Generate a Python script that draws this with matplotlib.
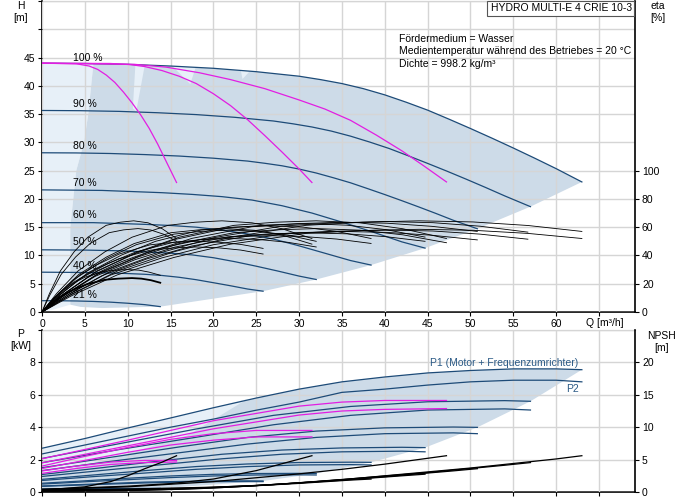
import numpy as np
import matplotlib
matplotlib.use('Agg')
import matplotlib.pyplot as plt
from matplotlib.patches import Rectangle

plt.rcParams['font.family'] = ['Liberation Sans', 'DejaVu Sans']

# ---------------- data ----------------
speed_labels = ['100 %', '90 %', '80 %', '70 %', '60 %', '50 %', '40 %', '21 %']
speed_label_h = [45.0, 36.7, 29.3, 22.9, 17.1, 12.3, 8.1, 3.0]

# H-Q curves per speed
h_q_100 = [0, 5, 10, 15, 20, 25, 30, 32.5, 35, 37.5, 40, 42.5, 45, 47.5, 50, 52.5, 55, 57.5, 60, 63]
h_h_100 = [44.0, 43.95, 43.8, 43.5, 43.1, 42.5, 41.7, 41.1, 40.4, 39.5, 38.4, 37.1, 35.7, 34.1,
           32.45, 30.75, 29.0, 27.2, 25.35, 23.0]
h_q_90 = [0, 4.5, 9, 13.5, 18, 22.5, 27, 29.25, 31.5, 33.75, 36, 38.25, 40.5, 42.75, 45, 47.25,
          49.5, 51.75, 54, 57.0]
h_h_90 = [35.64, 35.6, 35.48, 35.24, 34.91, 34.43, 33.78, 33.29, 32.72, 32.0, 31.1, 30.05, 28.92,
          27.62, 26.28, 24.91, 23.49, 22.03, 20.53, 18.63]
h_q_80 = [0, 4, 8, 12, 16, 20, 24, 26, 28, 30, 32, 34, 36, 38, 40, 42, 44, 46, 48, 50.8]
h_h_80 = [28.16, 28.13, 28.03, 27.84, 27.58, 27.2, 26.69, 26.3, 25.86, 25.28, 24.58, 23.74, 22.85,
          21.82, 20.77, 19.68, 18.56, 17.41, 16.22, 14.72]
h_q_70 = [0, 7, 14, 17.5, 21, 24.5, 28, 31.5, 35, 38.5, 42, 44.7]
h_h_70 = [21.6, 21.5, 21.1, 20.8, 20.4, 19.8, 18.8, 17.5, 15.9, 14.2, 12.4, 11.3]
h_q_60 = [0, 6, 12, 15, 18, 21, 24, 27, 30, 33, 36, 38.4]
h_h_60 = [15.8, 15.8, 15.5, 15.3, 15.0, 14.5, 13.8, 12.9, 11.7, 10.4, 9.1, 8.3]
h_q_50 = [0, 5, 10, 12.5, 15, 17.5, 20, 22.5, 25, 27.5, 30, 32.0]
h_h_50 = [11.0, 10.95, 10.8, 10.6, 10.4, 10.1, 9.6, 8.9, 8.1, 7.25, 6.35, 5.75]
h_q_40 = [0, 4, 8, 10, 12, 14, 16, 18, 20, 22, 24, 25.8]
h_h_40 = [7.04, 7.0, 6.9, 6.8, 6.67, 6.46, 6.14, 5.71, 5.18, 4.64, 4.06, 3.68]
h_q_21 = [0, 2, 4, 6, 8, 10, 12, 13.8]
h_h_21 = [2.0, 1.99, 1.95, 1.87, 1.74, 1.55, 1.3, 0.95]

# magenta H-Q curves
mh_q_1 = [0, 4, 5.5, 6.5, 7.5, 8.5, 9.5, 10.5, 11.5, 12.5, 13.5, 14.5, 15.7]
mh_h_1 = [44.0, 43.9, 43.5, 42.9, 41.9, 40.6, 38.9, 37.0, 34.9, 32.5, 29.7, 26.6, 22.9]
mh_q_2 = [0, 8, 10.3, 12, 14, 16, 18, 20, 22, 24, 26, 28, 30, 31.5]
mh_h_2 = [44.0, 43.95, 43.75, 43.4, 42.7, 41.7, 40.4, 38.6, 36.5, 34.0, 31.2, 28.3, 25.3, 22.9]
mh_q_3 = [0, 10.8, 14.5, 18.4, 22, 26, 30, 33, 36, 39, 42, 44.5, 47.2]
mh_h_3 = [44.0, 43.8, 43.3, 42.3, 41.1, 39.5, 37.5, 35.9, 33.9, 31.3, 28.5, 25.9, 23.0]

# operating range outline (left side / bottom), H
env_left_q = [7.0, 4.5, 3.3, 3.3, 4.0, 4.9, 5.4, 6.0]
env_left_h = [0.7, 0.9, 1.3, 15.0, 25.0, 30.0, 35.0, 43.9]
light_wedges = [
    ([10.9, 12.0, 11.0, 10.6], [43.8, 43.7, 35.5, 36.0]),
    ([15.2, 17.9, 17.3], [43.5, 43.1, 40.3]),
    ([23.2, 24.2, 23.4], [42.7, 42.5, 41.2]),
]

# efficiency curves (eta, %)
e_q_m1 = [0, 0.86, 2.14, 3.75, 5.35, 7.49, 9.1, 10.7, 12.37, 14.03, 15.7]
e_v_m1 = [0, 12.9, 29.0, 42.6, 52.9, 61.3, 63.5, 64.5, 63.1, 58.9, 52]
e_q_m1b = [0, 0.9, 2.24, 3.92, 5.6, 7.84, 9.52, 11.2, 12.7, 14.2, 15.7]
e_v_m1b = [0, 11.8, 26.6, 38.9, 48.4, 56.1, 58.1, 59, 58.0, 55.0, 50]
e_q_m2 = [0, 1.68, 4.2, 7.35, 10.5, 14.7, 17.85, 21, 24.5, 28.0, 31.5]
e_v_m2 = [0, 12.9, 29.0, 42.6, 52.9, 61.3, 63.5, 64.5, 63.1, 58.9, 52]
e_q_m2b = [0, 1.72, 4.3, 7.53, 10.75, 15.05, 18.3, 21.5, 24.8, 28.2, 31.5]
e_v_m2b = [0, 11.8, 26.6, 38.9, 48.4, 56.1, 58.1, 59, 57.8, 54.1, 48]
e_q_m3 = [0, 2.56, 6.4, 11.2, 16, 22.4, 27.2, 32, 37.1, 42.1, 47.2]
e_v_m3 = [0, 12.9, 29.0, 42.6, 52.9, 61.3, 63.5, 64.5, 63.1, 58.9, 52]
e_q_m3b = [0, 2.56, 6.4, 11.2, 16, 22.4, 27.2, 32, 37.1, 42.1, 47.2]
e_v_m3b = [0, 11.8, 26.6, 38.9, 48.4, 56.1, 58.1, 59, 57.9, 54.6, 49]
e_q_100a = [0, 3.52, 8.8, 15.4, 22, 30.8, 37.4, 44, 50.3, 56.7, 63]
e_v_100a = [0, 12.9, 29.0, 42.6, 52.9, 61.3, 63.5, 64.5, 63.7, 61.2, 57]
e_q_100b = [0, 3.52, 8.8, 15.4, 22, 30.8, 37.4, 44, 50.3, 56.7, 63]
e_v_100b = [0, 11.7, 26.3, 38.6, 48.0, 55.6, 57.6, 58.5, 57.8, 55.6, 52]
e_q_90a = [0, 3.2, 8, 14, 20, 28, 34, 40, 45.6, 51.1, 56.7]
e_v_90a = [0, 12.8, 28.8, 42.2, 52.5, 60.8, 63.0, 64, 63.2, 60.7, 56.5]
e_q_90b = [0, 3.2, 8, 14, 20, 28, 34, 40, 45.6, 51.1, 56.7]
e_v_90b = [0, 11.6, 26.1, 38.3, 47.6, 55.1, 57.1, 58, 57.3, 55.1, 51.5]
e_q_80a = [0, 2.8, 7, 12.25, 17.5, 24.5, 29.75, 35, 40.3, 45.5, 50.8]
e_v_80a = [0, 12.7, 28.6, 41.9, 52.1, 60.3, 62.5, 63.5, 62.8, 60.6, 57]
e_q_80b = [0, 2.8, 7, 12.25, 17.5, 24.5, 29.75, 35, 40.3, 45.5, 50.8]
e_v_80b = [0, 11.4, 25.7, 37.6, 46.7, 54.2, 56.1, 57, 56.3, 54.3, 51]
e_q_70a = [0, 2.48, 6.2, 10.85, 15.5, 21.7, 26.35, 31, 35.6, 40.1, 44.7]
e_v_70a = [0, 12.5, 28.1, 41.3, 51.3, 59.4, 61.6, 62.5, 61.4, 58.3, 53]
e_q_70b = [0, 2.48, 6.2, 10.85, 15.5, 21.7, 26.35, 31, 35.6, 40.1, 44.7]
e_v_70b = [0, 11.2, 25.2, 37.0, 45.9, 53.2, 55.2, 56, 55.3, 53.3, 50]
e_q_60a = [0, 2.12, 5.3, 9.28, 13.25, 18.55, 22.5, 26.5, 30.5, 34.4, 38.4]
e_v_60a = [0, 12.2, 27.5, 40.3, 50.0, 58.0, 60.1, 61, 60.0, 57.0, 52]
e_q_60b = [0, 2.12, 5.3, 9.28, 13.25, 18.55, 22.5, 26.5, 30.5, 34.4, 38.4]
e_v_60b = [0, 10.8, 24.3, 35.6, 44.3, 51.3, 53.2, 54, 53.4, 51.6, 48.5]
e_q_50a = [0, 1.76, 4.4, 7.7, 11, 15.4, 18.7, 22, 25.3, 28.7, 32]
e_v_50a = [0, 11.6, 26.1, 38.3, 47.6, 55.1, 57.1, 58, 57.1, 54.4, 50]
e_q_50b = [0, 1.76, 4.4, 7.7, 11, 15.4, 18.7, 22, 25.3, 28.7, 32]
e_v_50b = [0, 10.4, 23.4, 34.3, 42.6, 49.4, 51.2, 52, 51.3, 49.3, 46]
e_q_40a = [0, 1.44, 3.6, 6.3, 9, 12.6, 15.3, 18, 20.6, 23.2, 25.8]
e_v_40a = [0, 10, 22.5, 33, 41, 47.5, 49.25, 50, 49.4, 47.8, 45]
e_q_40b = [0, 1.44, 3.6, 6.3, 9, 12.6, 15.3, 18, 20.6, 23.2, 25.8]
e_v_40b = [0, 9.2, 20.7, 30.4, 37.7, 43.7, 45.3, 46, 45.4, 43.8, 41]
e_q_21a = [0, 0.8, 2, 3.5, 5, 7, 8.5, 10, 11.3, 12.5, 13.8]
e_v_21a = [0, 6, 13.5, 19.8, 24.6, 28.5, 29.55, 30, 29.6, 28.2, 26]
e_q_21b = [0, 0.84, 2.1, 3.68, 5.25, 7.35, 8.9, 10.5, 11.6, 12.7, 13.8]
e_v_21b = [0, 4.8, 10.8, 15.8, 19.7, 22.8, 23.6, 24, 23.6, 22.5, 20.7]

# power curves P1 / P2 (kW)
p_q_100 = [0, 5, 10, 15, 20, 25, 30, 35, 40, 45, 50, 55, 60, 63]
p1_100 = [2.7, 3.3, 3.95, 4.57, 5.2, 5.8, 6.35, 6.8, 7.1, 7.35, 7.5, 7.6, 7.6, 7.55]
p2_100 = [2.35, 2.9, 3.45, 4.0, 4.5, 5.05, 5.55, 6.15, 6.35, 6.6, 6.8, 6.9, 6.9, 6.8]
p_q_90 = [0, 9, 18, 27, 36, 45, 54, 57.0]
p1_90 = [2.07, 2.98, 3.89, 4.73, 5.28, 5.57, 5.64, 5.6]
p2_90 = [1.81, 2.62, 3.38, 4.15, 4.73, 5.06, 5.13, 5.06]
p_q_80 = [0, 8, 16, 24, 32, 40, 48, 50.8]
p1_80 = [1.5, 2.14, 2.78, 3.37, 3.76, 3.96, 4.01, 3.99]
p2_80 = [1.32, 1.89, 2.42, 2.96, 3.37, 3.6, 3.65, 3.6]
p_q_70 = [0, 7, 14, 21, 28, 35, 42, 44.7]
p1_70 = [1.08, 1.5, 1.93, 2.33, 2.59, 2.72, 2.76, 2.74]
p2_70 = [0.96, 1.33, 1.69, 2.05, 2.33, 2.48, 2.52, 2.48]
p_q_60 = [0, 6, 12, 18, 24, 30, 36, 38.4]
p1_60 = [0.78, 1.05, 1.32, 1.57, 1.73, 1.82, 1.84, 1.83]
p2_60 = [0.71, 0.95, 1.17, 1.4, 1.57, 1.67, 1.69, 1.67]
p_q_50 = [0, 5, 10, 15, 20, 25, 30, 32.0]
p1_50 = [0.54, 0.69, 0.85, 0.99, 1.09, 1.14, 1.15, 1.14]
p2_50 = [0.49, 0.63, 0.76, 0.89, 0.99, 1.05, 1.06, 1.05]
p_q_40 = [0, 4, 8, 12, 16, 20, 24, 25.8]
p1_40 = [0.37, 0.45, 0.53, 0.61, 0.65, 0.68, 0.69, 0.68]
p2_40 = [0.35, 0.42, 0.49, 0.56, 0.61, 0.64, 0.64, 0.64]
p_q_21 = [0, 2.1, 4.2, 6.3, 8.4, 10.5, 12.6, 13.8]
p1_21 = [0.18, 0.19, 0.2, 0.21, 0.22, 0.22, 0.22, 0.22]
p2_21 = [0.17, 0.18, 0.19, 0.2, 0.21, 0.21, 0.21, 0.21]

# magenta power curves
mp_q_1 = [0, 4, 8, 12, 15.7]
mp1_1 = [1.3, 1.6, 1.85, 1.95, 1.95]
mp2_1 = [1.15, 1.45, 1.7, 1.82, 1.85]
mp_q_2 = [0, 5, 10, 15, 20, 25, 31.5]
mp1_2 = [1.6, 2.2, 2.75, 3.25, 3.6, 3.8, 3.8]
mp2_2 = [1.45, 1.95, 2.45, 2.9, 3.2, 3.4, 3.4]
mp_q_3 = [0, 10, 20, 30, 35, 40, 47.2]
mp1_3 = [2.05, 3.2, 4.4, 5.3, 5.55, 5.65, 5.65]
mp2_3 = [1.8, 2.85, 3.9, 4.75, 5.0, 5.1, 5.15]

# light part of power range
p_light_q = [24.0, 17.0, 9.0, 0.0]
p_light_p = [5.75, 3.5, 2.2, 1.0]

# NPSH curves (m)
n_q_100 = [0, 10, 20, 25, 30, 35, 40, 45, 50, 55, 60, 63]
n_v_100 = [0.3, 0.45, 0.75, 1.0, 1.4, 1.9, 2.5, 3.1, 3.7, 4.4, 5.1, 5.6]
n_q_90 = [0, 9, 18, 27, 36, 45, 54, 57.0]
n_v_90 = [0.25, 0.36, 0.61, 1.13, 2.03, 3.0, 4.13, 4.54]
n_q_80 = [0, 8, 16, 24, 32, 40, 48, 50.8]
n_v_80 = [0.2, 0.29, 0.48, 0.9, 1.6, 2.37, 3.26, 3.6]
n_q_70 = [0, 7, 14, 21, 28, 35, 42, 44.7]
n_v_70 = [0.15, 0.22, 0.37, 0.69, 1.23, 1.82, 2.5, 2.75]
n_q_60 = [0, 6, 12, 18, 24, 30, 36, 38.4]
n_v_60 = [0.11, 0.16, 0.27, 0.5, 0.9, 1.33, 1.84, 2.0]
n_q_m1 = [0, 5, 8, 10, 12, 14, 15.7]
n_v_m1 = [0.3, 0.8, 1.6, 2.5, 3.6, 4.6, 5.6]
n_q_m2 = [0, 10, 15, 20, 25, 31.5]
n_v_m2 = [0.4, 0.9, 1.3, 2.0, 3.3, 5.6]
n_q_m3 = [0, 10, 20, 30, 35, 40, 47.2]
n_v_m3 = [0.4, 0.8, 1.6, 2.8, 3.5, 4.3, 5.6]

# ---------------- style ----------------
BLUE = '#1d4b78'
MAG = '#e21ee2'
SHADE = '#cddbe8'
LIGHT = '#e7f0f8'
GRID = '#d5d5d5'
FS = 7.5

W, H = 691, 500
fig = plt.figure(figsize=(W / 100, H / 100), dpi=100)
ax_h = fig.add_axes([42 / W, 188 / H, 593 / W, 311 / H])
ax_p = fig.add_axes([42 / W, 8 / H, 593 / W, 162 / H])

def ptext(x, y, s, **kw):
    kw.setdefault('fontsize', FS)
    fig.text(x / W, 1 - y / H, s, **kw)

XMAX = 69.2
for ax in (ax_h, ax_p):
    ax.set_xlim(0, XMAX)
    ax.set_xticks(np.arange(0, 66, 5))
    ax.grid(True, color=GRID, lw=1.0, zorder=1.5)
    ax.set_axisbelow(False)
    for s in ('left', 'bottom'):
        ax.spines[s].set_color('black')
        ax.spines[s].set_linewidth(1.2)
    ax.spines['top'].set_color('#9a9a9a')
    ax.spines['top'].set_linewidth(0.8)
    ax.spines['right'].set_visible(False)
    ax.tick_params(direction='out', length=3, width=0.8, labelsize=FS, pad=2)

ax_h.set_xticklabels([str(v) for v in range(0, 61, 5)] + [''])
ax_h.set_ylim(0, 55)
ax_h.set_yticks(np.arange(0, 56, 5))
ax_h.set_yticklabels([str(v) if v <= 45 else '' for v in range(0, 56, 5)])
ax_p.set_xticklabels([])
ax_p.tick_params(labelbottom=False)
ax_p.set_ylim(0, 10)
ax_p.set_yticks(np.arange(0, 11, 2))
ax_p.set_yticklabels([str(v) if v <= 8 else '' for v in range(0, 11, 2)])

ax_e = ax_h.twinx()
ax_e.set_ylim(0, 220)
ax_e.set_yticks(np.arange(0, 101, 20))
ax_n = ax_p.twinx()
ax_n.set_ylim(0, 25)
ax_n.set_yticks(np.arange(0, 21, 5))
for ax in (ax_e, ax_n):
    for s in ('left', 'top', 'bottom'):
        ax.spines[s].set_visible(False)
    ax.spines['right'].set_color('black')
    ax.spines['right'].set_linewidth(1.2)
    ax.tick_params(direction='out', length=3, width=0.8, labelsize=FS, pad=2)

# ---------------- top chart: H ----------------
speed_q = [h_q_100, h_q_90, h_q_80, h_q_70, h_q_60, h_q_50, h_q_40, h_q_21]
speed_h = [h_h_100, h_h_90, h_h_80, h_h_70, h_h_60, h_h_50, h_h_40, h_h_21]

# light background part
lq = [0, 0] + [q for q in h_q_100 if 0 < q < 6.0] + [6.0, 5.4, 4.9, 4.0, 3.3, 3.3, 1.5]
lh = [0, 44.0] + [h for q, h in zip(h_q_100, h_h_100) if 0 < q < 6.0] + [43.9, 35.0, 30.0, 25.0, 15.0, 1.3, 0.5]
ax_h.fill(lq, lh, color=LIGHT, lw=0, zorder=1)

# main operating range
dq = [q for q in h_q_100 if q > 6.0] + [qq[-1] for qq in speed_q[1:]] + env_left_q
dh = [h for q, h in zip(h_q_100, h_h_100) if q > 6.0] + [hh[-1] for hh in speed_h[1:]] + env_left_h
ax_h.fill(dq, dh, color=SHADE, lw=0, zorder=1)
for wq, wh in light_wedges:
    ax_h.fill(wq, wh, color=LIGHT, lw=0, zorder=1.2)

for qq, hh in zip(speed_q, speed_h):
    ax_h.plot(qq, hh, color=BLUE, lw=0.9, zorder=3)
for qq, hh in ((mh_q_1, mh_h_1), (mh_q_2, mh_h_2), (mh_q_3, mh_h_3)):
    ax_h.plot(qq, hh, color=MAG, lw=0.9, zorder=3.5)
for lab, yh in zip(speed_labels, speed_label_h):
    ax_h.text(3.6, yh, lab, fontsize=FS, va='center', ha='left', zorder=6)

# efficiency curves
eta_curves = [
    (e_q_m1, e_v_m1), (e_q_m1b, e_v_m1b), (e_q_m2, e_v_m2), (e_q_m2b, e_v_m2b),
    (e_q_m3, e_v_m3), (e_q_m3b, e_v_m3b), (e_q_100a, e_v_100a), (e_q_100b, e_v_100b),
    (e_q_90a, e_v_90a), (e_q_90b, e_v_90b), (e_q_80a, e_v_80a), (e_q_80b, e_v_80b),
    (e_q_70a, e_v_70a), (e_q_70b, e_v_70b), (e_q_60a, e_v_60a), (e_q_60b, e_v_60b),
    (e_q_50a, e_v_50a), (e_q_50b, e_v_50b), (e_q_40a, e_v_40a), (e_q_40b, e_v_40b),
    (e_q_21a, e_v_21a),
]
for qq, ee in eta_curves:
    ax_e.plot(qq, ee, color='black', lw=0.6, zorder=4)
ax_e.plot(e_q_21b, e_v_21b, color='black', lw=1.3, zorder=4)

# ---------------- bottom chart: P and NPSH ----------------
pq_list = [p_q_100, p_q_90, p_q_80, p_q_70, p_q_60, p_q_50, p_q_40, p_q_21]
p1_list = [p1_100, p1_90, p1_80, p1_70, p1_60, p1_50, p1_40, p1_21]
p2_list = [p2_100, p2_90, p2_80, p2_70, p2_60, p2_50, p2_40, p2_21]

bq = list(p_q_100) + [qq[-1] for qq in pq_list[1:]] + [0]
bp = list(p1_100) + [pp[-1] for pp in p1_list[1:]] + [0.17]
ax_p.fill(bq, bp, color=SHADE, lw=0, zorder=1)
lpq = [q for q in p_q_100 if q <= 24] + p_light_q
lpp = [p for q, p in zip(p_q_100, p1_100) if q <= 24] + p_light_p
ax_p.fill(lpq, lpp, color=LIGHT, lw=0, zorder=1.1)

for qq, a, b in zip(pq_list, p1_list, p2_list):
    ax_p.plot(qq, a, color=BLUE, lw=0.9, zorder=3)
    ax_p.plot(qq, b, color=BLUE, lw=0.9, zorder=3)
for qq, a, b in ((mp_q_1, mp1_1, mp2_1), (mp_q_2, mp1_2, mp2_2), (mp_q_3, mp1_3, mp2_3)):
    ax_p.plot(qq, a, color=MAG, lw=0.9, zorder=3.5)
    ax_p.plot(qq, b, color=MAG, lw=0.9, zorder=3.5)

for qq, nn in ((n_q_100, n_v_100), (n_q_90, n_v_90), (n_q_80, n_v_80),
               (n_q_70, n_v_70), (n_q_60, n_v_60), (n_q_m1, n_v_m1),
               (n_q_m2, n_v_m2), (n_q_m3, n_v_m3)):
    ax_n.plot(qq, nn, color='black', lw=0.9, zorder=4)

ax_p.text(62.6, 7.98, 'P1 (Motor + Frequenzumrichter)', color='#2b5a86',
          fontsize=FS, ha='right', va='center', zorder=6)
ax_p.text(62.6, 6.37, 'P2', color='#2b5a86', fontsize=FS, ha='right', va='center', zorder=6)

# ---------------- texts ----------------
ptext(21, 6, 'H', ha='center', va='center')
ptext(21, 18, '[m]', ha='center', va='center')
ptext(658, 6, 'eta', ha='center', va='center')
ptext(658, 18, '[%]', ha='center', va='center')
ptext(21, 334, 'P', ha='center', va='center')
ptext(21, 346, '[kW]', ha='center', va='center')
ptext(662, 336, 'NPSH', ha='center', va='center')
ptext(662, 348, '[m]', ha='center', va='center')
ptext(605, 323, 'Q [m³/h]', ha='center', va='center')

ptext(399, 39, 'Fördermedium = Wasser', ha='left', va='center')
ptext(399, 51, 'Medientemperatur während des Betriebes = 20 °C', ha='left', va='center')
ptext(399, 64, 'Dichte = 998.2 kg/m³', ha='left', va='center')

box = Rectangle((487 / W, 1 - 16 / H), (634 - 487) / W, 15 / H, transform=fig.transFigure,
                facecolor='white', edgecolor='#555555', lw=0.8, zorder=10)
fig.patches.append(box)
ptext(491, 8, 'HYDRO MULTI-E 4 CRIE 10-3', ha='left', va='center', zorder=11)

fig.savefig('out.png', dpi=100)
